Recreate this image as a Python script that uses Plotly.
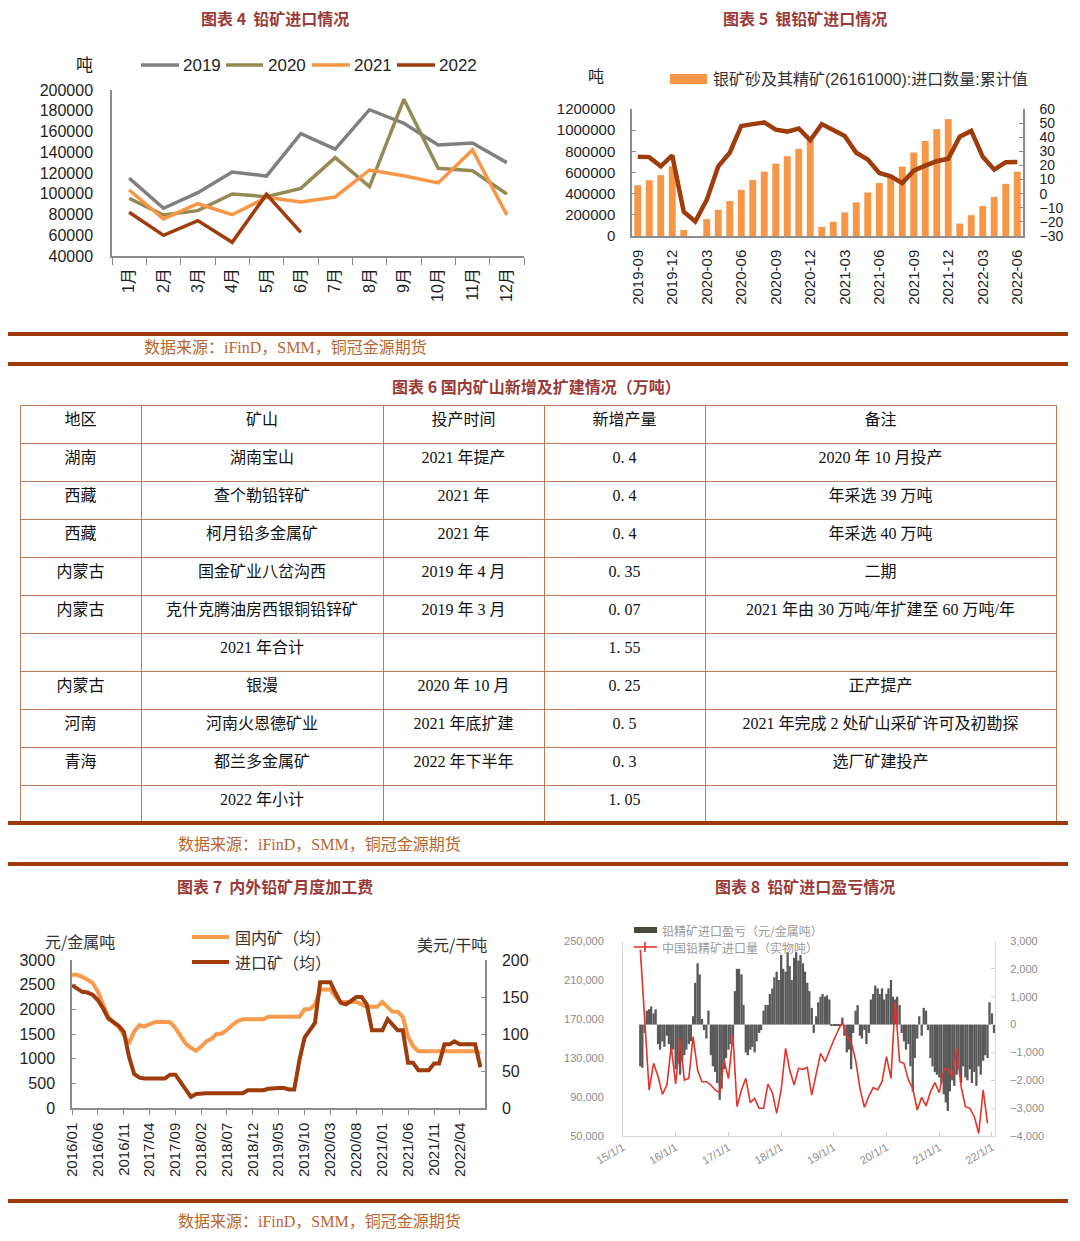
import plotly.graph_objects as go
import pandas as pd

W, H = 1080, 1241
def X(p): return p / W
def Y(p): return 1 - p / H

SANS = "Liberation Sans, Noto Sans CJK SC"
SERIF = "Liberation Serif, Noto Sans CJK SC"
CJK = "Noto Sans CJK SC"
TXT = "#1f1f1f"
AX = "#8c8c8c"
TITLE = "#9b3b38"
RULE = "#9c3a0b"
SRC = "#b8652f"
ORANGE = "#f79646"
BROWN = "#9e3c0c"

# ---------------- 图表4 data ----------------
months4 = ["1月", "2月", "3月", "4月", "5月", "6月", "7月", "8月", "9月", "10月", "11月", "12月"]
imp2019 = [115000, 86000, 101000, 121000, 117000, 158000, 143000, 181000, 168000, 147000, 149000, 130000]
imp2020 = [95600, 79500, 83700, 99800, 97200, 105200, 134800, 106800, 191000, 124500, 122200, 99800]
imp2021 = [103600, 75700, 90400, 79800, 96500, 92000, 96900, 122900, 117400, 110400, 142200, 79500]
imp2022 = [82100, 59900, 74100, 53200, 99400, 62800]
years4 = ["2019", "2020", "2021", "2022"]
colors4 = ["#808080", "#948a54", ORANGE, BROWN]

# ---------------- 图表5 data ----------------
months5 = pd.period_range("2019-09", "2022-06", freq="M").strftime("%Y-%m").tolist()
cum5 = [480000, 527000, 575000, 660000,
        57000, None, 159000, 248000, 331000, 436000, 528000, 608000, 684000, 754000, 824000, 905000,
        86000, 134000, 223000, 318000, 411000, 500000, 562000, 656000, 789000, 898000, 1009000, 1104000,
        118000, 197000, 283000, 369000, 493000, 608000]
yoy5 = [26.1, 25.9, 19.4, 27.1,
        -12.8, -19.7, -4.4, 19.4, 29.0, 48.0, 49.3, 50.5, 45.4, 44.0, 46.2, 37.8,
        49.3, 45.2, 40.9, 29.0, 24.2, 14.7, 12.3, 7.5, 16.3, 19.9, 23.0, 24.7,
        40.4, 44.5, 26.1, 17.0, 22.3, 22.5]
legend5 = "银矿砂及其精矿(26161000):进口数量:累计值"

# ---------------- 图表6 table ----------------
col_region = ["湖南", "西藏", "西藏", "内蒙古", "内蒙古", "", "内蒙古", "河南", "青海", ""]
col_mine = ["湖南宝山", "查个勒铅锌矿", "柯月铅多金属矿", "国金矿业八岔沟西", "克什克腾油房西银铜铅锌矿",
            "2021 年合计", "银漫", "河南火恩德矿业", "都兰多金属矿", "2022 年小计"]
col_time = ["2021 年提产", "2021 年", "2021 年", "2019 年 4 月", "2019 年 3 月", "", "2020 年 10 月",
            "2021 年底扩建", "2022 年下半年", ""]
col_add = ["0. 4", "0. 4", "0. 4", "0. 35", "0. 07", "1. 55", "0. 25", "0. 5", "0. 3", "1. 05"]
col_note = ["2020 年 10 月投产", "年采选 39 万吨", "年采选 40 万吨", "二期", "2021 年由 30 万吨/年扩建至 60 万吨/年",
            "", "正产提产", "2021 年完成 2 处矿山采矿许可及初勘探", "选厂矿建投产", ""]
header6 = ["地区", "矿山", "投产时间", "新增产量", "备注"]

# ---------------- 图表7 data ----------------
dates7 = pd.date_range("2016-01-01", periods=80, freq="MS")
domestic7 = [2700, 2700, 2660, 2610, 2540, 2360, 2120, 1850, 1730, 1650, 1480,
             1300, 1550, 1680, 1650, 1700, 1740, 1750, 1750, 1740, 1620,
             1450, 1300, 1220, 1160, 1250, 1350, 1400, 1500, 1510, 1580,
             1680, 1760, 1800, 1800, 1800, 1800, 1800, 1850, 1850, 1850,
             1850, 1850, 1850, 1850, 2000, 2000, 2100, 2400, 2400, 2400,
             2250, 2150, 2150, 2150, 2150, 2100, 2050, 2050, 2050, 2150,
             2050, 1950, 1950, 1850, 1450, 1250, 1150, 1150, 1150, 1150,
             1150, 1150, 1150, 1150, 1150, 1150, 1150, 1150, 1100]
import7 = [166, 162, 157, 156, 153, 146, 135, 121, 116, 111, 103,
           70, 46, 41, 40, 40, 40, 40, 40, 45, 45,
           35, 25, 15, 19, 20, 20, 20, 20, 20, 20,
           20, 20, 20, 24, 24, 24, 24, 26, 27, 27,
           27, 25, 25, 65, 95, 105, 115, 170, 170, 170,
           155, 142, 140, 145, 150, 150, 140, 105, 105, 105,
           120, 112, 105, 105, 61, 61, 51, 51, 51, 60,
           60, 86, 86, 90, 86, 86, 86, 86, 55]

# ---------------- 图表8 data ----------------
dates8_red = pd.date_range("2015-05-01", periods=80, freq="MS")
volume8 = [241000, 169000, 97000, 124500, 111000, 92700, 102300, 141600, 103300, 150000,
           107400, 109100, 151900, 117700, 105700, 105700, 102300, 97200, 94400, 127900,
           108800, 153600, 80100, 97200, 109100, 84200, 88600, 78400, 78400, 103300,
           94400, 73200, 97200, 139900, 117700, 102300, 119400, 118400, 120400, 92000,
           114300, 134800, 126200, 137500, 148500, 158700, 166600, 151900, 146400, 127900,
           98900, 79400, 91000, 99600, 97200, 105700, 131400, 109100, 187800, 126200,
           124500, 107400, 98900, 76650, 89600, 80800, 95500, 104700, 94400, 117700,
           119400, 110800, 139900, 100600, 80100, 78400, 69800, 52700, 97200, 63000]
dates8_bar = pd.date_range("2015-05-01", periods=162, freq="SMS")
profit8 = [-1500, -1550, -300, 500, 550, 650, 400, 550, -700, -900,
           -600, -800, -400, -700, -1000, -900, -1600, -1400, -1800, -1300,
           -1100, -900, -700, -600, 300, 1500, 2200, 1800, 200, -200,
           -500, 500, -1100, -1500, -1700, -2100, -2700, -2300, -1600, -1200,
           -900, -700, -500, 1200, 2000, 2000, 1800, 700, -1000, -1100,
           -900, -800, -1000, -600, -300, -200, 500, 700, 700, 1100,
           1300, 1700, 1900, 1600, 2500, 2000, 1900, 2600, 2100, 1600,
           2400, 2600, 2300, 2500, 2200, 1900, 1500, 1200, 600, -300,
           300, 800, 1000, 1100, 1000, 1050, 900, -50, -50, -50,
           -50, -50, 250, -400, -1000, -900, -1600, -300, 500, 700,
           -400, -500, -200, -700, -300, 900, 1100, 1400, 1300, 1100,
           1300, 900, 1100, 1300, 1600, 1000, 900, 1000, 700, -300,
           -600, -900, -700, -1500, -2400, -1200, -500, 300, -400, 600,
           500, -200, -1200, -1500, -1700, -1800, -1900, -2100, -2500, -2800,
           -3100, -2400, -2000, -2200, -1800, -1600, -2100, -1500, -1900, -2000,
           -1600, -2100, -1700, -2200, -1500, -1800, -1300, -1100, -1200, 800,
           400, -300]

fig = go.Figure()

# ---- chart 4 traces
for yr, vals, col in zip(years4, [imp2019, imp2020, imp2021, imp2022], colors4):
    fig.add_trace(go.Scatter(x=months4[:len(vals)], y=vals, mode="lines", name=yr,
                             line=dict(color=col, width=3.5), xaxis="x", yaxis="y"))

# ---- chart 5 traces
fig.add_trace(go.Bar(x=months5, y=cum5, name=legend5, marker=dict(color=ORANGE, line=dict(width=0)),
                     xaxis="x2", yaxis="y2"))
fig.add_trace(go.Scatter(x=months5, y=yoy5, mode="lines", name="同比",
                         line=dict(color=BROWN, width=4.5), xaxis="x2", yaxis="y3"))

# ---- table 6
fig.add_trace(go.Table(
    domain=dict(x=[X(20), X(1056)], y=[Y(824), Y(405)]),
    columnwidth=[121, 242, 161, 161, 351],
    header=dict(values=header6, height=38, align="center",
                fill=dict(color="white"), line=dict(color="#c07a5a", width=1),
                font=dict(family=SERIF, size=16, color="#111")),
    cells=dict(values=[col_region, col_mine, col_time, col_add, col_note], height=38, align="center",
               fill=dict(color="white"), line=dict(color="#c07a5a", width=1),
               font=dict(family=SERIF, size=16, color="#111")),
))

# ---- chart 7 traces
fig.add_trace(go.Scatter(x=dates7, y=domestic7, mode="lines", name="国内矿（均）",
                         line=dict(color="#f89a4c", width=4), xaxis="x3", yaxis="y4"))
fig.add_trace(go.Scatter(x=dates7, y=import7, mode="lines", name="进口矿（均）",
                         line=dict(color=BROWN, width=4), xaxis="x3", yaxis="y5"))

# ---- chart 8 traces
fig.add_trace(go.Bar(x=dates8_bar, y=profit8, name="铅精矿进口盈亏（元/金属吨）",
                     width=16 * 86400000, marker=dict(color="#595959", line=dict(width=0)),
                     xaxis="x4", yaxis="y6"))
fig.add_trace(go.Scatter(x=dates8_red, y=volume8, mode="lines", name="中国铅精矿进口量（实物吨）",
                         line=dict(color="#e3342b", width=1.6), xaxis="x4", yaxis="y7"))

tick16 = dict(family=SANS, size=16, color=TXT)
tick15 = dict(family=SANS, size=15, color=TXT)
tick14 = dict(family=SANS, size=14, color=TXT)
tick8 = dict(family=SANS, size=11, color="#8c8c8c")

common = dict(automargin=False, showgrid=False, zeroline=False)
layout = dict(
    width=W, height=H, margin=dict(l=0, r=0, t=0, b=0, autoexpand=False),
    paper_bgcolor="white", plot_bgcolor="rgba(0,0,0,0)", showlegend=False,
    bargap=0.4, font=dict(family=CJK),
    # chart 4
    xaxis=dict(domain=[X(112), X(524)], anchor="y", type="category", range=[-0.5, 11.5],
               showline=True, linecolor=AX, linewidth=1.5, ticks="outside", tickson="boundaries",
               ticklen=7, tickcolor=AX, tickangle=-90, tickfont=tick16, ticklabelstandoff=4, **common),
    yaxis=dict(domain=[Y(256), Y(90)], anchor="x", range=[40000, 200000], dtick=20000, tick0=40000,
               tickformat="d", showline=True, linecolor=AX, linewidth=1.5, ticks="",
               tickfont=tick16, ticklabelstandoff=14, **common),
    # chart 5
    xaxis2=dict(domain=[X(632), X(1023)], anchor="y2", type="category", tickvals=months5[::3],
                showline=True, linecolor=AX, linewidth=1.5, ticks="", tickangle=-90, tickfont=tick15,
                ticklabelstandoff=6, **common),
    yaxis2=dict(domain=[Y(236), Y(109)], anchor="x2", range=[0, 1200000], dtick=200000, tickformat="d",
                showline=True, linecolor=AX, linewidth=1.5, ticks="inside", ticklen=4, tickcolor=AX,
                tickfont=tick15, ticklabelstandoff=12, **common),
    yaxis3=dict(overlaying="y2", anchor="x2", side="right", range=[-30, 60], dtick=10,
                showline=True, linecolor=AX, linewidth=1.5, ticks="inside", ticklen=4, tickcolor=AX,
                tickfont=tick14, ticklabelstandoff=12, **common),
    # chart 7
    xaxis3=dict(domain=[X(72), X(485)], anchor="y4", type="date", range=["2016-01-01", "2022-08-28"],
                dtick="M5", tick0="2016-01-01", tickformat="%Y/%m", tickangle=-90, ticks="outside",
                ticklen=5, tickcolor=AX, showline=True, linecolor=AX, linewidth=1.5, tickfont=tick15,
                ticklabelstandoff=2, **common),
    yaxis4=dict(domain=[Y(1108), Y(960)], anchor="x3", range=[0, 3000], dtick=500, showline=True,
                linecolor=AX, linewidth=1.5, ticks="inside", ticklen=4, tickcolor=AX,
                tickfont=tick16, ticklabelstandoff=12, **common),
    yaxis5=dict(overlaying="y4", anchor="x3", side="right", range=[0, 200], dtick=50, showline=True,
                linecolor=AX, linewidth=1.5, ticks="inside", ticklen=4, tickcolor=AX,
                tickfont=tick16, ticklabelstandoff=12, **common),
    # chart 8
    xaxis4=dict(domain=[X(623), X(995)], anchor="y6", type="date", range=["2015-01-01", "2022-01-22"],
                dtick="M12", tick0="2015-01-01", tickformat="%y/%-m/%-d", tickangle=-30,
                ticks="inside", ticklen=4, tickcolor="#d0d0d0", showline=True, linecolor="#d9d9d9",
                tickfont=tick8, **common),
    yaxis6=dict(domain=[Y(1136), Y(941)], anchor="x4", side="right", range=[-4000, 3000], dtick=1000,
                tickformat=",", showline=True, linecolor="#d9d9d9", ticks="inside", ticklen=4,
                tickcolor="#d0d0d0", tickfont=tick8, ticklabelstandoff=12, **common),
    yaxis7=dict(overlaying="y6", anchor="x4", side="left", range=[50000, 250000], dtick=40000,
                tick0=50000, tickformat=",", showline=True, linecolor="#d9d9d9", ticks="",
                tickfont=tick8, ticklabelstandoff=16, **common),
)
fig.update_layout(**layout)

ann = []
shp = []
def text(px, py, s, size=16, color=TXT, anchor="center", family=CJK):
    ann.append(dict(x=X(px), y=Y(py), xref="paper", yref="paper", text=s, showarrow=False,
                    xanchor=anchor, yanchor="middle", font=dict(size=size, color=color, family=family)))
def hline(x0, x1, py, color, width):
    shp.append(dict(type="line", xref="paper", yref="paper", x0=X(x0), x1=X(x1), y0=Y(py), y1=Y(py),
                    line=dict(color=color, width=width)))

# titles
for cx, cy, t in [(275, 18, "图表 4  铅矿进口情况"), (805, 18, "图表 5  银铅矿进口情况"),
                  (536, 386, "图表 6 国内矿山新增及扩建情况（万吨）"),
                  (275, 886, "图表 7  内外铅矿月度加工费"), (805, 886, "图表 8  铅矿进口盈亏情况")]:
    text(cx, cy, "<b>" + t + "</b>", size=16, color=TITLE)

# chart 4 legend + unit
text(84, 64, "吨", size=17)
for (x0, x1, tx), yr, col in zip([(141, 179, 181), (226, 263, 266), (312, 350, 352), (397, 435, 437)],
                                 years4, colors4):
    hline(x0, x1, 65, col, 3.5)
    text(tx, 66, yr, size=17, anchor="left", family=SANS)

# chart 5 legend + unit
text(596, 75, "吨", size=16)
shp.append(dict(type="rect", xref="paper", yref="paper", x0=X(670), x1=X(707), y0=Y(84), y1=Y(74),
                fillcolor=ORANGE, line=dict(width=0)))
text(711, 79, legend5, size=16, anchor="left", color="#333", family=SANS)

# chart 7 legend + units
text(43, 941, "元/金属吨", size=16, anchor="left", color="#333")
text(415, 944, "美元/干吨", size=16, anchor="left", color="#333")
hline(192, 229, 937, "#f89a4c", 4)
text(233, 937, "国内矿（均）", size=16, anchor="left", color="#333")
hline(192, 229, 962, BROWN, 4)
text(233, 962, "进口矿（均）", size=16, anchor="left", color="#333")

# chart 8 legend
shp.append(dict(type="rect", xref="paper", yref="paper", x0=X(634), x1=X(657), y0=Y(933), y1=Y(927),
                fillcolor="#4a4a3a", line=dict(width=0)))
text(660, 930, "铅精矿进口盈亏（元/金属吨）", size=12, anchor="left", color="#9a9a9a")
hline(634, 657, 947, "#e3342b", 1.6)
shp.append(dict(type="line", xref="paper", yref="paper", x0=X(645), x1=X(645), y0=Y(942), y1=Y(952),
                line=dict(color="#e3342b", width=1.6)))
text(660, 947, "中国铅精矿进口量（实物吨）", size=12, anchor="left", color="#9a9a9a")

# page rules and sources
for py in [334, 364, 823, 864, 1201]:
    hline(8, 1068, py, RULE, 4)
src = "数据来源：iFinD，SMM，铜冠金源期货"
text(142, 347, src, size=16, anchor="left", color=SRC, family=SERIF)
text(176, 845, src, size=16, anchor="left", color=SRC, family=SERIF)
text(176, 1221, src, size=16, anchor="left", color=SRC, family=SERIF)

fig.update_layout(annotations=ann, shapes=shp)

fig.write_html("out.html", config={"displayModeBar": False},
               post_script="document.body.style.margin='0';document.documentElement.style.overflow='hidden';")
